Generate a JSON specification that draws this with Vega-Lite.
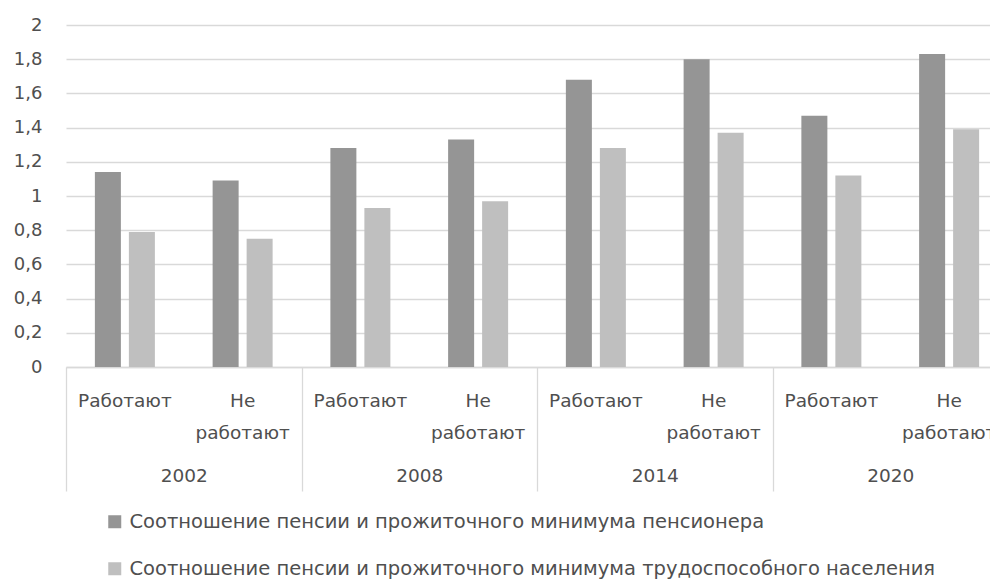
{
  "$schema": "https://vega.github.io/schema/vega-lite/v6.json",
  "width": 924,
  "height": 342,
  "autosize": {"type": "none"},
  "padding": {"left": 66, "top": 25, "right": 0, "bottom": 214},
  "config": {
    "view": {"stroke": null},
    "font": "DejaVu Sans"
  },
  "data": {
    "values": [
      {"year": "2002", "cat": "2002 Работают", "series": "Соотношение пенсии и прожиточного минимума пенсионера", "value": 1.14},
      {"year": "2002", "cat": "2002 Работают", "series": "Соотношение пенсии и прожиточного минимума трудоспособного населения", "value": 0.79},
      {"year": "2002", "cat": "2002 Не работают", "series": "Соотношение пенсии и прожиточного минимума пенсионера", "value": 1.09},
      {"year": "2002", "cat": "2002 Не работают", "series": "Соотношение пенсии и прожиточного минимума трудоспособного населения", "value": 0.75},
      {"year": "2008", "cat": "2008 Работают", "series": "Соотношение пенсии и прожиточного минимума пенсионера", "value": 1.28},
      {"year": "2008", "cat": "2008 Работают", "series": "Соотношение пенсии и прожиточного минимума трудоспособного населения", "value": 0.93},
      {"year": "2008", "cat": "2008 Не работают", "series": "Соотношение пенсии и прожиточного минимума пенсионера", "value": 1.33},
      {"year": "2008", "cat": "2008 Не работают", "series": "Соотношение пенсии и прожиточного минимума трудоспособного населения", "value": 0.97},
      {"year": "2014", "cat": "2014 Работают", "series": "Соотношение пенсии и прожиточного минимума пенсионера", "value": 1.68},
      {"year": "2014", "cat": "2014 Работают", "series": "Соотношение пенсии и прожиточного минимума трудоспособного населения", "value": 1.28},
      {"year": "2014", "cat": "2014 Не работают", "series": "Соотношение пенсии и прожиточного минимума пенсионера", "value": 1.80},
      {"year": "2014", "cat": "2014 Не работают", "series": "Соотношение пенсии и прожиточного минимума трудоспособного населения", "value": 1.37},
      {"year": "2020", "cat": "2020 Работают", "series": "Соотношение пенсии и прожиточного минимума пенсионера", "value": 1.47},
      {"year": "2020", "cat": "2020 Работают", "series": "Соотношение пенсии и прожиточного минимума трудоспособного населения", "value": 1.12},
      {"year": "2020", "cat": "2020 Не работают", "series": "Соотношение пенсии и прожиточного минимума пенсионера", "value": 1.83},
      {"year": "2020", "cat": "2020 Не работают", "series": "Соотношение пенсии и прожиточного минимума трудоспособного населения", "value": 1.39}
    ]
  },
  "layer": [
    {
      "mark": {"type": "bar"},
      "encoding": {
        "x": {
          "field": "cat",
          "type": "nominal",
          "scale": {
            "domain": ["2002 Работают", "2002 Не работают", "2008 Работают", "2008 Не работают", "2014 Работают", "2014 Не работают", "2020 Работают", "2020 Не работают"],
            "range": [0, 942],
            "paddingInner": 0.4225,
            "paddingOuter": 0.2113
          },
          "axis": {
            "orient": "bottom",
            "title": null,
            "domain": false,
            "ticks": false,
            "tickSize": 0,
            "grid": false,
            "labelAngle": 0,
            "labelPadding": 24,
            "labelFontSize": 18.5,
            "labelColor": "#4f4f4f",
            "labelLineHeight": 32,
            "labelAlign": "center",
            "labelBaseline": "top",
            "labelExpr": "indexof(datum.value, 'Не') >= 0 ? ['Не', 'работают'] : 'Работают'"
          }
        },
        "xOffset": {
          "field": "series",
          "type": "nominal",
          "scale": {
            "domain": ["Соотношение пенсии и прожиточного минимума пенсионера", "Соотношение пенсии и прожиточного минимума трудоспособного населения"],
            "paddingInner": 0.235,
            "paddingOuter": 0.1176
          }
        },
        "y": {
          "field": "value",
          "type": "quantitative",
          "scale": {"domain": [0, 2]},
          "axis": {
            "title": null,
            "values": [0, 0.2, 0.4, 0.6, 0.8, 1, 1.2, 1.4, 1.6, 1.8, 2],
            "labelExpr": "replace(format(datum.value, '~g'), '.', ',')",
            "domain": false,
            "ticks": false,
            "labelPadding": 24,
            "labelFontSize": 18,
            "labelColor": "#4f4f4f",
            "gridColor": "#d9d9d9",
            "gridWidth": 1.3
          }
        },
        "color": {
          "field": "series",
          "type": "nominal",
          "scale": {
            "domain": ["Соотношение пенсии и прожиточного минимума пенсионера", "Соотношение пенсии и прожиточного минимума трудоспособного населения"],
            "range": ["#959595", "#bfbfbf"]
          },
          "legend": {
            "orient": "none",
            "legendX": 39,
            "legendY": 487,
            "direction": "vertical",
            "title": null,
            "symbolType": "square",
            "symbolSize": 169,
            "symbolStrokeWidth": 0,
            "symbolOpacity": 1,
            "labelFontSize": 19.5,
            "labelColor": "#4f4f4f",
            "labelLimit": 950,
            "labelOffset": 5,
            "rowPadding": 26
          }
        }
      }
    },
    {
      "mark": {"type": "tick", "opacity": 0},
      "encoding": {
        "x": {
          "field": "year",
          "type": "nominal",
          "scale": {"range": [0, 942], "paddingInner": 0, "paddingOuter": 0},
          "axis": {
            "orient": "bottom",
            "title": null,
            "tickBand": "extent",
            "tickSize": 124,
            "tickColor": "#d9d9d9",
            "tickWidth": 1.3,
            "domainColor": "#d9d9d9",
            "domainWidth": 1.3,
            "grid": false,
            "labelAngle": 0,
            "labelPadding": -25,
            "labelFontSize": 18.5,
            "labelColor": "#4f4f4f"
          }
        }
      }
    }
  ],
  "resolve": {"scale": {"x": "independent"}, "axis": {"x": "independent"}}
}
